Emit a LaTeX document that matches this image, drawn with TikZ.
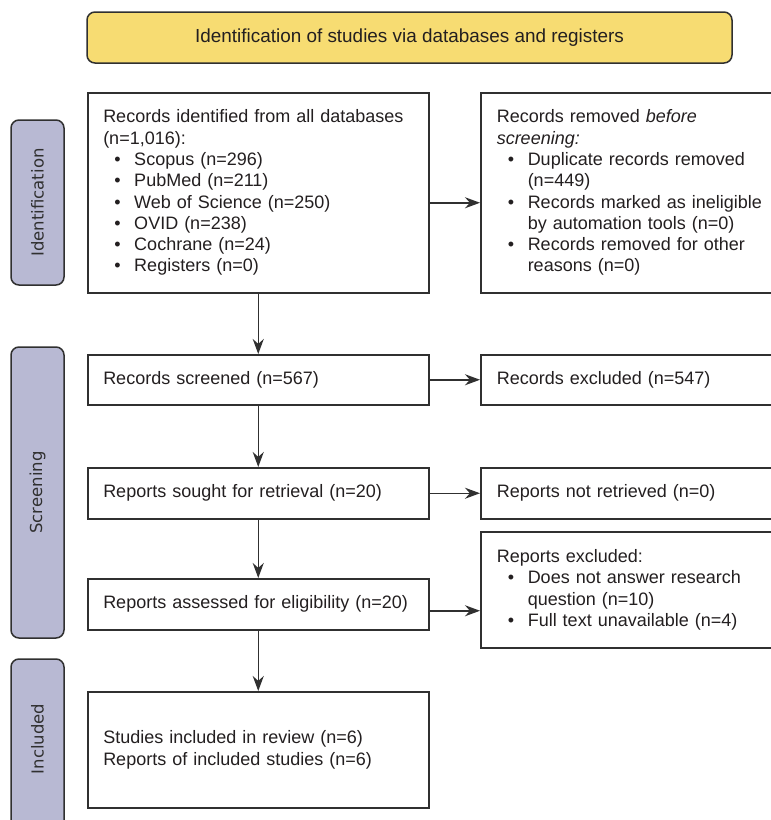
\documentclass[tikz,border=0pt]{standalone}
\usepackage{fontspec}
\setmainfont{Liberation Sans}
\newfontfamily\tabfont{DejaVu Sans}
\usetikzlibrary{arrows.meta}
\definecolor{bandyellow}{HTML}{F7DC72}
\definecolor{tablilac}{HTML}{B8B9D3}
\definecolor{linegray}{HTML}{303030}
\definecolor{inkblack}{HTML}{231F20}
\newcommand{\bul}{\hspace*{11pt}\makebox[20pt][l]{\textbullet}}
\newcommand{\ind}{\hspace*{31pt}}

\begin{document}
\begin{tikzpicture}
[%%%%%%%%%%%%%%%%%%%%%%%%%%%%%%
x=1pt,y=-1pt,
box/.style={rectangle,draw=linegray,line width=1.5pt,minimum height=#1,inner ysep=0pt,anchor=north west,align=left,text=inkblack,font=\fontsize{18}{21.3}\selectfont},
lbox/.style={box=#1,text width=310pt,inner xsep=15.5pt},
rbox/.style={box=#1,text width=290pt,inner xsep=16pt},
tab/.style={draw=linegray,line width=1.5pt,fill=tablilac,rounded corners=8pt},
tablabel/.style={rotate=90,text=linegray,font=\tabfont\fontsize{16.5}{18}\selectfont},
arr/.style={draw=linegray,line width=1.5pt,-{Stealth[length=15pt,width=11pt]}},
]%%%%%%%%%%%%%%%%%%%%%%%%%%%%%%
\useasboundingbox[fill=white] (0,0) rectangle (771,820);

\node[draw=linegray,line width=1.5pt,fill=bandyellow,rounded corners=8pt,minimum width=645pt,minimum height=51pt,text=inkblack,font=\fontsize{18.9}{21.3}\selectfont] (head) at (409.5,37.5){Identification of studies via databases and registers};

\foreach \nm/\txt/\ytop/\ybot/\ytxt in {tabid/Identification/120/285/202.5,tabscr/Screening/347/638/492.5,tabinc/Included/659/840/739}{
\draw[tab] (11,\ytop) rectangle (64,\ybot);
\node[tablabel] (\nm) at (37.5,\ytxt){\txt};
}

% left column
\node[lbox=200pt] (ident) at (87,92){Records identified from all databases\\(n=1,016):\\
\bul Scopus (n=296)\\\bul PubMed (n=211)\\\bul Web of Science (n=250)\\
\bul OVID (n=238)\\\bul Cochrane (n=24)\\\bul Registers (n=0)};
\node[lbox=50pt] (screened) at (87,354){Records screened (n=567)};
\node[lbox=51pt] (sought) at (87,467){Reports sought for retrieval (n=20)};
\node[lbox=51pt] (assessed) at (87,578){Reports assessed for eligibility (n=20)};
\node[lbox=116pt] (studies) at (87,691){Studies included in review (n=6)\\Reports of included studies (n=6)};

% right column
\node[rbox=200pt] (removed) at (480,92){Records removed \textit{before}\\\textit{screening:}\\
\bul Duplicate records removed\\\ind (n=449)\\
\bul Records marked as ineligible\\\ind by automation tools (n=0)\\
\bul Records removed for other\\\ind reasons (n=0)};
\node[rbox=50pt] (excluded) at (480,354){Records excluded (n=547)};
\node[rbox=51pt] (notret) at (480,467){Reports not retrieved (n=0)};
\node[rbox=116pt] (repexcl) at (480,531){Reports excluded:\\
\bul Does not answer research\\\ind question (n=10)\\
\bul Full text unavailable (n=4)};

% arrows
\draw[arr] (ident.south) -- (screened.north);
\draw[arr] (screened.south) -- (sought.north);
\draw[arr] (sought.south) -- (assessed.north);
\draw[arr] (assessed.south) -- (studies.north);
\draw[arr] ([yshift=-10pt]ident.east) -- ([yshift=-10pt]ident.east -| removed.west);
\draw[arr] (screened.east) -- (excluded.west);
\draw[arr] (sought.east) -- (notret.west);
\draw[arr] ([yshift=-6.5pt]assessed.east) -- ([yshift=-6.5pt]assessed.east -| repexcl.west);
\end{tikzpicture}
\end{document}
